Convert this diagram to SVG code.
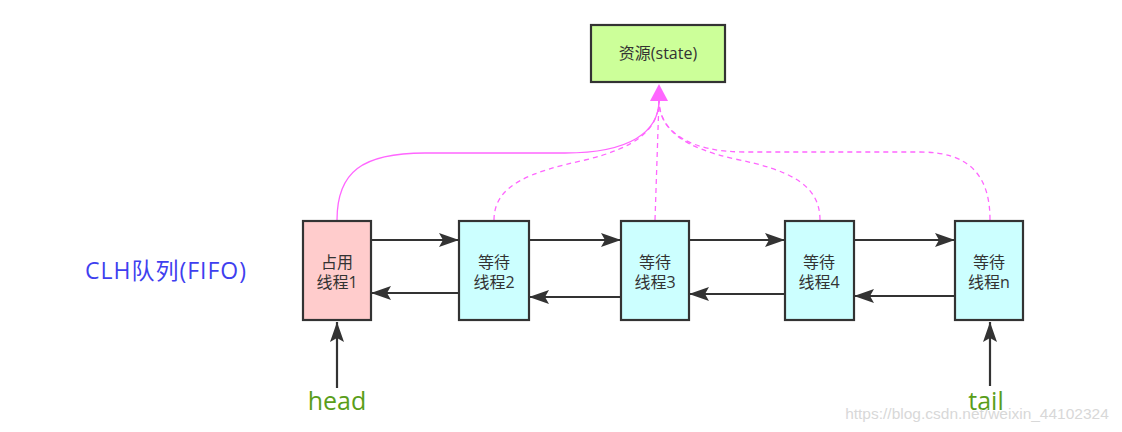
<svg xmlns="http://www.w3.org/2000/svg" width="1122" height="432" viewBox="0 0 1122 432">
<style>
.node{stroke:#333;stroke-width:2.2}
.lbl{font-family:"Open Sans","Noto Sans CJK SC",sans-serif;font-size:16px;fill:#333;text-anchor:middle}
.link{stroke:#333;stroke-width:2.2;fill:none}
.pink{stroke:#ff66ff;stroke-width:1.3;fill:none}
.dash{stroke-dasharray:5 4}
</style>
<defs>
<marker id="ah2" viewBox="0 0 20 14" refX="20" refY="7" markerWidth="20" markerHeight="14" markerUnits="userSpaceOnUse" orient="auto">
<path d="M0,0 L20,7 L0,14 L4,7 Z" fill="#333"/>
</marker>
</defs>
<rect width="1122" height="432" fill="#fff"/>
<text x="166" y="279" font-family="'Open Sans','Noto Sans CJK SC',sans-serif" font-size="23" letter-spacing="1" fill="#3f3fef" text-anchor="middle">CLH队列(FIFO)</text>
<g id="connectors">
<path class="pink" d="M337,220 C337,172 362,153 425,153 L565,153 C630,153 659,132 659,100"/>
<path class="pink dash" d="M494,220 C494,185 530,172 585,160 C635,148 659,130 659,100"/>
<path class="pink dash" d="M655,220 L659,100"/>
<path class="pink dash" d="M820,220 C820,185 790,170 735,159 C685,148 659,130 659,100"/>
<path class="pink dash" d="M990,220 C990,176 970,152 920,152 L745,152 C690,152 659,132 659,100"/>
<path d="M650,101 L659,84 L668,101 Z" fill="#ff66ff"/>
<path class="link" d="M371,240 L459,240" marker-end="url(#ah2)"/>
<path class="link" d="M459,293 L371,293" marker-end="url(#ah2)"/>
<path class="link" d="M529,240 L621,240" marker-end="url(#ah2)"/>
<path class="link" d="M621,297 L529,297" marker-end="url(#ah2)"/>
<path class="link" d="M689,240 L785,240" marker-end="url(#ah2)"/>
<path class="link" d="M785,294 L689,294" marker-end="url(#ah2)"/>
<path class="link" d="M854,240 L955,240" marker-end="url(#ah2)"/>
<path class="link" d="M955,296 L854,296" marker-end="url(#ah2)"/>
<path class="link" d="M337,388 L337,322" marker-end="url(#ah2)"/>
<path class="link" d="M990,386 L990,322" marker-end="url(#ah2)"/>
</g>
<g id="resource">
<rect class="node" x="591" y="25" width="134" height="57" fill="#ccff99"/>
<text class="lbl" x="658" y="59" style="font-size:16px">资源(state)</text>
</g>
<g id="thread1">
<rect class="node" x="303" y="221" width="68" height="99" fill="#ffcccc"/>
<text class="lbl" x="337" y="268">占用</text>
<text class="lbl" x="337" y="288">线程1</text>
</g>
<g id="thread2">
<rect class="node" x="459" y="221" width="70" height="99" fill="#ccffff"/>
<text class="lbl" x="494" y="268">等待</text>
<text class="lbl" x="494" y="288">线程2</text>
</g>
<g id="thread3">
<rect class="node" x="621" y="221" width="68" height="99" fill="#ccffff"/>
<text class="lbl" x="655" y="268">等待</text>
<text class="lbl" x="655" y="288">线程3</text>
</g>
<g id="thread4">
<rect class="node" x="785" y="221" width="69" height="99" fill="#ccffff"/>
<text class="lbl" x="819" y="268">等待</text>
<text class="lbl" x="819" y="288">线程4</text>
</g>
<g id="threadn">
<rect class="node" x="955" y="221" width="68" height="99" fill="#ccffff"/>
<text class="lbl" x="989" y="268">等待</text>
<text class="lbl" x="989" y="288">线程n</text>
</g>
<g id="head">
<text x="337" y="410" font-family="'Open Sans',sans-serif" font-size="25" fill="#5a9e1a" text-anchor="middle">head</text>
</g>
<g id="tail">
<text x="986" y="410" font-family="'Open Sans',sans-serif" font-size="25" fill="#5a9e1a" text-anchor="middle">tail</text>
</g>
<text x="977" y="419" font-family="'Liberation Sans',sans-serif" font-size="15.5" fill="#d8d8d8" text-anchor="middle">https://blog.csdn.net/weixin_44102324</text>
</svg>
